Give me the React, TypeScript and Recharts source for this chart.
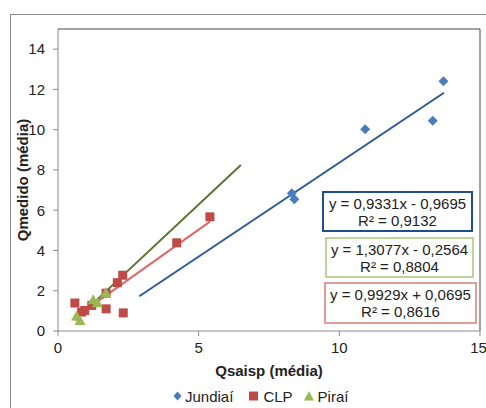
import React from 'react';
import { ScatterChart, Scatter, XAxis, YAxis, ReferenceLine, Legend, Customized } from 'recharts';

const jundiaiX = [8.31, 8.4, 10.92, 13.32, 13.7];
const jundiaiY = [6.84, 6.54, 10.02, 10.44, 12.4];
const clpX = [0.6, 0.84, 0.95, 1.2, 1.71, 1.71, 2.11, 2.3, 2.32, 4.22, 5.4];
const clpY = [1.39, 0.94, 1.02, 1.27, 1.88, 1.1, 2.4, 2.77, 0.9, 4.38, 5.67];
const piraiX = [0.66, 0.78, 1.25, 1.4, 1.7];
const piraiY = [0.75, 0.52, 1.55, 1.4, 1.9];

const xTicks = [0, 5, 10, 15];
const yTicks = [0, 2, 4, 6, 8, 10, 12, 14];

const seriesNames = ['Jundiaí', 'CLP', 'Piraí'];
const trendSlopes = [0.9331, 0.9929, 1.3077];
const trendIntercepts = [-0.9695, 0.0695, -0.2564];
const trendFrom = [2.89, 0.6, 0.6];
const trendTo = [13.72, 5.4, 6.5];
const equationLabels = ['y = 0,9331x - 0,9695', 'y = 1,3077x - 0,2564', 'y = 0,9929x + 0,0695'];
const r2Labels = ['R² = 0,9132', 'R² = 0,8804', 'R² = 0,8616'];

const FONT = '"Liberation Sans", Arial, sans-serif';
const C_J = '#4a7ebb';
const C_C = '#be4b48';
const C_P = '#98b954';
const TREND = ['#2a5a96', '#e06666', '#5b7530'];
const BOX = ['#1f4e8c', '#a9c77a', '#dc7c7a'];

const toPts = (xs: number[], ys: number[]) => xs.map((x, i) => ({ x, y: ys[i] }));
const jundiai = toPts(jundiaiX, jundiaiY);
const clp = toPts(clpX, clpY);
const pirai = toPts(piraiX, piraiY);

const Diamond = (p: any) => {
  const { cx, cy } = p;
  const r = 5;
  return <path d={`M${cx},${cy - r}L${cx + r},${cy}L${cx},${cy + r}L${cx - r},${cy}Z`} fill={C_J} />;
};
const Square = (p: any) => {
  const { cx, cy } = p;
  return <rect x={cx - 4.5} y={cy - 4.5} width={9} height={9} fill={C_C} />;
};
const Triangle = (p: any) => {
  const { cx, cy } = p;
  return <path d={`M${cx},${cy - 5.5}L${cx + 5.5},${cy + 4.5}L${cx - 5.5},${cy + 4.5}Z`} fill={C_P} />;
};

const boxes = [
  { x: 323, y: 192, w: 149, h: 39 },
  { x: 326, y: 238, w: 147, h: 39 },
  { x: 325, y: 283, w: 151, h: 40 },
];

const EquationBoxes = () => (
  <g>
    {boxes.map((b, i) => (
      <g key={i}>
        <rect x={b.x} y={b.y} width={b.w} height={b.h} fill="#fff" stroke={BOX[i]} strokeWidth={i === 0 ? 2 : 1.5} />
        <text x={b.x + b.w / 2} y={b.y + 11} textAnchor="middle" dominantBaseline="central" fontFamily={FONT} fontSize={15} fill="#222">
          {equationLabels[i]}
        </text>
        <text x={b.x + b.w / 2} y={b.y + 28} textAnchor="middle" dominantBaseline="central" fontFamily={FONT} fontSize={15} fill="#222">
          {r2Labels[i]}
        </text>
      </g>
    ))}
  </g>
);

const LegendContent = () => (
  <div style={{ display: 'flex', alignItems: 'center', height: 20, paddingLeft: 172, fontFamily: FONT, fontSize: 15, color: '#222' }}>
    <svg width={11} height={12}><path d="M5.5,1.5L9.5,6L5.5,10.5L1.5,6Z" fill={C_J} /></svg>
    <span style={{ marginLeft: 2 }}>{seriesNames[0]}</span>
    <svg width={11} height={12} style={{ marginLeft: 15 }}><rect x={1} y={1.5} width={9} height={9} fill={C_C} /></svg>
    <span style={{ marginLeft: 4 }}>{seriesNames[1]}</span>
    <svg width={12} height={12} style={{ marginLeft: 10 }}><path d="M6,1L11,10.5L1,10.5Z" fill={C_P} /></svg>
    <span style={{ marginLeft: 3 }}>{seriesNames[2]}</span>
  </div>
);

export default function App() {
  return (
    <div style={{ position: 'absolute', left: 0, top: 0, width: 486, height: 408, background: '#fff', overflow: 'hidden' }}>
      <div style={{ position: 'absolute', left: 10, top: 14, width: 500, height: 420, border: '1px solid #8c8c8c' }} />
      <div style={{ position: 'absolute', left: 0, top: 0 }}>
        <ScatterChart width={486} height={408} margin={{ top: 29, right: 6, bottom: 2, left: 0 }}>
          <XAxis
            type="number"
            dataKey="x"
            domain={[0, 15]}
            ticks={xTicks}
            height={55}
            tickSize={5}
            tickMargin={6}
            stroke="#8a8a8a"
            tick={{ fill: '#222', fontSize: 15, fontFamily: FONT }}
            label={{
              content: (props: any) => {
                const vb = props.viewBox;
                return (
                  <text x={vb.x + vb.width / 2} y={vb.y + 39} textAnchor="middle" dominantBaseline="central" fontFamily={FONT} fontSize={15} fontWeight="bold" fill="#222">
                    Qsaisp (média)
                  </text>
                );
              },
            }}
          />
          <YAxis
            type="number"
            dataKey="y"
            domain={[0, 15]}
            ticks={yTicks}
            width={58}
            tickSize={5}
            tickMargin={8}
            stroke="#8a8a8a"
            tick={{ fill: '#222', fontSize: 15, fontFamily: FONT }}
            label={{
              content: (props: any) => {
                const vb = props.viewBox;
                const cx = vb.x + 22;
                const cy = vb.y + vb.height / 2;
                return (
                  <text x={cx} y={cy} transform={`rotate(-90 ${cx} ${cy})`} textAnchor="middle" dominantBaseline="central" fontFamily={FONT} fontSize={15} fontWeight="bold" fill="#222">
                    Qmedido (média)
                  </text>
                );
              },
            }}
          />
          <ReferenceLine y={15} stroke="#444" strokeWidth={1} ifOverflow="visible" />
          <ReferenceLine x={15} stroke="#444" strokeWidth={1} ifOverflow="visible" />
          <Legend verticalAlign="bottom" align="left" content={LegendContent} wrapperStyle={{ left: 0, width: 486 }} />
          <Scatter name={seriesNames[0]} data={jundiai} shape={Diamond} isAnimationActive={false} />
          <Scatter name={seriesNames[1]} data={clp} shape={Square} isAnimationActive={false} />
          <Scatter name={seriesNames[2]} data={pirai} shape={Triangle} isAnimationActive={false} />
          {trendSlopes.map((m, i) => (
            <ReferenceLine
              key={i}
              segment={[
                { x: trendFrom[i], y: m * trendFrom[i] + trendIntercepts[i] },
                { x: trendTo[i], y: m * trendTo[i] + trendIntercepts[i] },
              ]}
              stroke={TREND[i]}
              strokeWidth={2}
              ifOverflow="visible"
            />
          ))}
          <Customized component={EquationBoxes} />
        </ScatterChart>
      </div>
    </div>
  );
}
